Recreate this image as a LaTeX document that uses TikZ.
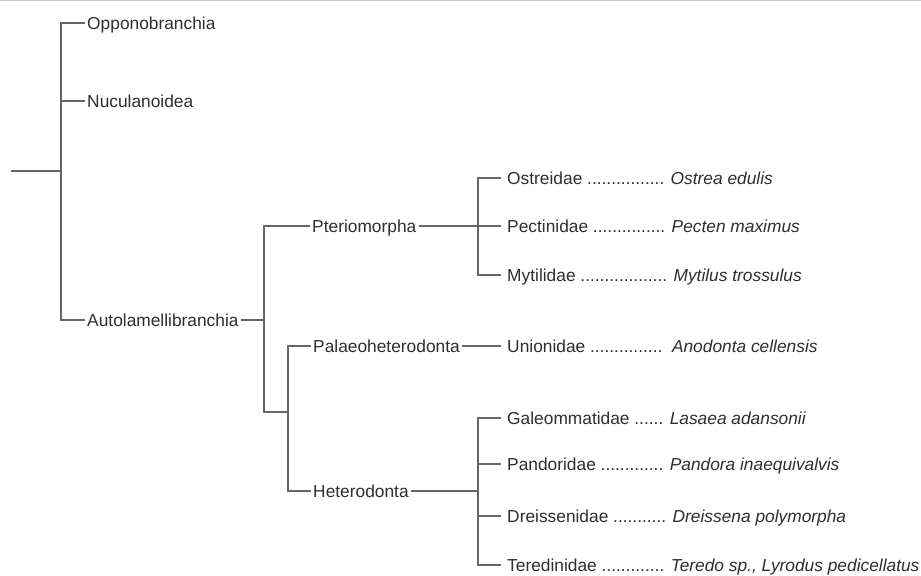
\documentclass[tikz,border=0pt]{standalone}
\usepackage{fontspec}
\setmainfont{Liberation Sans}

\begin{document}
\begin{tikzpicture}[
        branch/.style={draw=black!60, line width=0.9pt},
        taxon/.style={anchor=west, inner xsep=0.06cm, inner ysep=0pt, text height=10.6pt, text depth=0pt,
            text=black!82, font=\fontsize{14.8pt}{18pt}\selectfont},
        family/.style={taxon, inner xsep=0.18cm}]
        \useasboundingbox (0,0) rectangle (27.63,-17.25);
        \draw[black!22, line width=0.03cm] (0,-0.015) -- (27.63,-0.015);

        % root and first split
        \coordinate (root) at (0.33,-5.13);
        \coordinate (bivalvia) at (1.83,-5.13);
        \node[taxon] (oppono) at (2.55,-0.69) {Opponobranchia};
        \node[taxon] (nuculan) at (2.55,-3.03) {Nuculanoidea};
        \node[taxon] (autolam) at (2.55,-9.60) {Autolamellibranchia};
        \draw[branch] (root) -- (bivalvia);
        \draw[branch] (bivalvia) |- (oppono.west);
        \draw[branch] (bivalvia) |- (nuculan.west);
        \draw[branch] (bivalvia) |- (autolam.west);

        % Autolamellibranchia
        \coordinate (autoj) at (7.92,-9.60);
        \coordinate (heteroj) at (8.64,-12.36);
        \node[taxon] (pterio) at (9.30,-6.78) {Pteriomorpha};
        \node[taxon] (palaeo) at (9.33,-10.38) {Palaeoheterodonta};
        \node[taxon] (hetero) at (9.33,-14.73) {Heterodonta};
        \draw[branch] (autolam) -- (autoj);
        \draw[branch] (autoj) |- (pterio.west);
        \draw[branch] (autoj) |- (heteroj);
        \draw[branch] (heteroj) |- (palaeo.west);
        \draw[branch] (heteroj) |- (hetero.west);

        % families
        \node[family] (ostreid) at (15.03,-5.34) {Ostreidae ................ \textit{Ostrea edulis}};
        \node[family] (pectinid) at (15.03,-6.78) {Pectinidae ............... \textit{Pecten maximus}};
        \node[family] (mytilid) at (15.03,-8.25) {Mytilidae .................. \textit{Mytilus trossulus}};
        \node[family] (unionid) at (15.03,-10.38) {Unionidae ...............\ \ \textit{Anodonta cellensis}};
        \node[family] (galeom) at (15.03,-12.54) {Galeommatidae ...... \textit{Lasaea adansonii}};
        \node[family] (pandor) at (15.03,-13.92) {Pandoridae ............. \textit{Pandora inaequivalvis}};
        \node[family] (dreiss) at (15.03,-15.48) {Dreissenidae ........... \textit{Dreissena polymorpha}};
        \node[family] (teredin) at (15.03,-16.95) {Teredinidae ............. \textit{Teredo sp., Lyrodus pedicellatus}};

        \coordinate (pterj) at (14.34,-6.78);
        \draw[branch] (pterio) -- (pterj);
        \draw[branch] (pterj) |- (ostreid.west);
        \draw[branch] (pterj) -- (pectinid.west);
        \draw[branch] (pterj) |- (mytilid.west);

        \draw[branch] (palaeo) -- (unionid.west);

        \coordinate (hetj) at (14.34,-14.73);
        \draw[branch] (hetero) -- (hetj);
        \foreach \fam in {galeom,pandor,dreiss,teredin}
            \draw[branch] (hetj) |- (\fam.west);
    \end{tikzpicture}
\end{document}
